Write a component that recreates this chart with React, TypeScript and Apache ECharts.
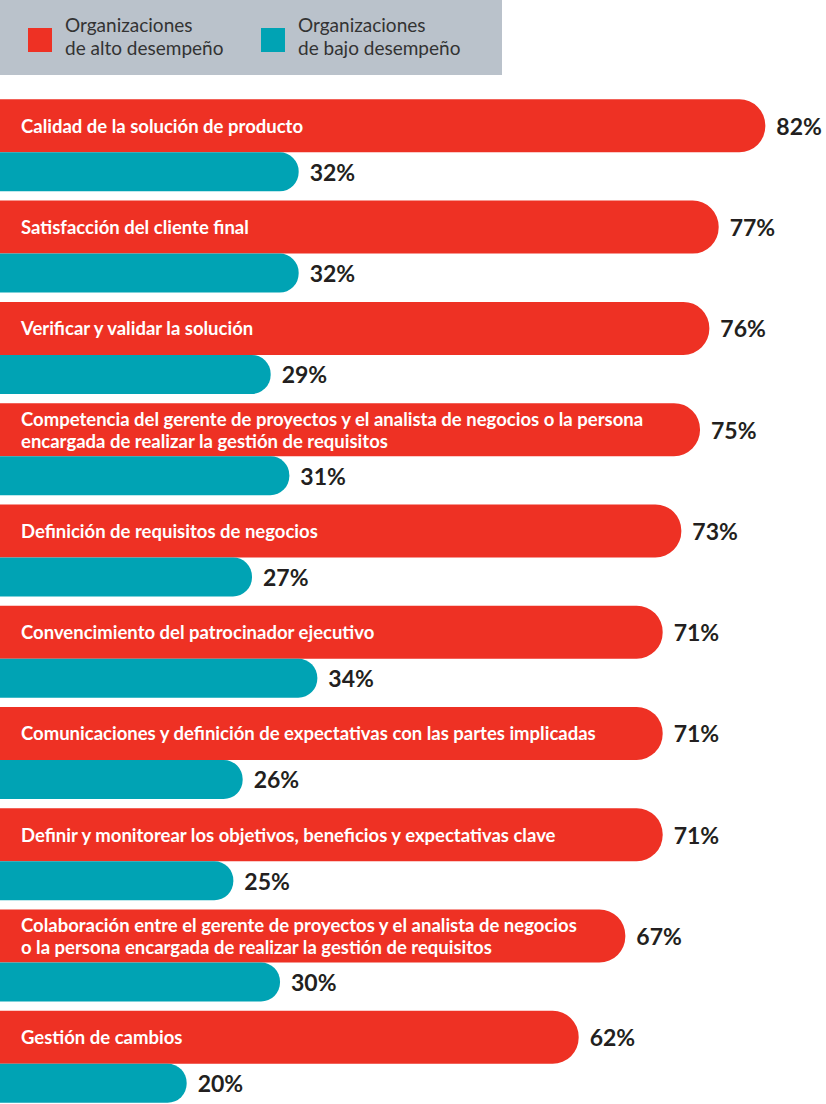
import React, { useEffect, useRef } from "react";
import * as echarts from "echarts";

const categories = [
  "Calidad de la solución de producto",
  "Satisfacción del cliente final",
  "Verificar y validar la solución",
  "Competencia del gerente de proyectos y el analista de negocios o la persona\nencargada de realizar la gestión de requisitos",
  "Definición de requisitos de negocios",
  "Convencimiento del patrocinador ejecutivo",
  "Comunicaciones y definición de expectativas con las partes implicadas",
  "Definir y monitorear los objetivos, beneficios y expectativas clave",
  "Colaboración entre el gerente de proyectos y el analista de negocios\no la persona encargada de realizar la gestión de requisitos",
  "Gestión de cambios",
];
const highPerf = [82, 77, 76, 75, 73, 71, 71, 71, 67, 62];
const lowPerf = [32, 32, 29, 31, 27, 34, 26, 25, 30, 20];
const seriesNames = ["Organizaciones\nde alto desempeño", "Organizaciones\nde bajo desempeño"];

const RED = "#EE3124";
const TEAL = "#00A3B4";
const FONT = "Lato, 'Open Sans', sans-serif";

const valueLabel = {
  show: true,
  position: "right",
  distance: 11,
  formatter: "{c}%",
  color: "#231F20",
  fontWeight: "bold",
  fontSize: 23,
  fontFamily: FONT,
};

export default function App() {
  const ref = useRef<HTMLDivElement>(null);
  useEffect(() => {
    if (!ref.current) return;
    const chart = echarts.init(ref.current, null, { renderer: "svg" });
    chart.setOption({
      animation: false,
      textStyle: { fontFamily: FONT },
      grid: { left: 0, right: 0, top: 94.7, height: 1012.7, containLabel: false },
      xAxis: { type: "value", min: 0, max: 88.5, show: false },
      yAxis: [
        { type: "category", data: categories, inverse: true, show: false },
        { type: "category", data: categories, inverse: true, show: false },
      ],
      graphic: [
        { type: "rect", left: 0, top: 0, shape: { width: 502, height: 75 }, style: { fill: "#BAC2CB" } },
        { type: "rect", left: 28, top: 28, shape: { width: 24, height: 24 }, style: { fill: RED } },
        { type: "rect", left: 261, top: 28, shape: { width: 24, height: 24 }, style: { fill: TEAL } },
        {
          type: "text", left: 65, top: 13,
          style: { text: seriesNames[0], fill: "#333333", font: `19px ${FONT}`, lineHeight: 23 },
        },
        {
          type: "text", left: 298, top: 13,
          style: { text: seriesNames[1], fill: "#333333", font: `19px ${FONT}`, lineHeight: 23 },
        },
      ],
      series: [
        {
          name: seriesNames[0],
          type: "bar",
          yAxisIndex: 0,
          data: highPerf,
          barWidth: 53,
          barGap: "0%",
          itemStyle: { color: RED, borderRadius: [0, 26, 26, 0] },
          label: valueLabel,
        },
        {
          name: seriesNames[1],
          type: "bar",
          yAxisIndex: 0,
          data: lowPerf,
          barWidth: 39,
          barGap: "0%",
          itemStyle: { color: TEAL, borderRadius: [0, 19, 19, 0] },
          label: valueLabel,
        },
        {
          name: "labels",
          type: "bar",
          yAxisIndex: 1,
          data: highPerf,
          barWidth: 92,
          z: 5,
          silent: true,
          itemStyle: { color: "rgba(0,0,0,0)" },
          label: {
            show: true,
            position: [21, 26.5],
            align: "left",
            verticalAlign: "middle",
            formatter: (p: any) => categories[p.dataIndex],
            color: "#FFFFFF",
            fontWeight: "bold",
            fontSize: 18.5,
            lineHeight: 22,
            fontFamily: FONT,
          },
        },
      ],
    });
    return () => chart.dispose();
  }, []);
  return (
    <div
      style={{ position: "absolute", left: 0, top: 0, width: 826, height: 1104, overflow: "hidden" }}
    >
      <div ref={ref} style={{ width: 826, height: 1120 }} />
    </div>
  );
}
